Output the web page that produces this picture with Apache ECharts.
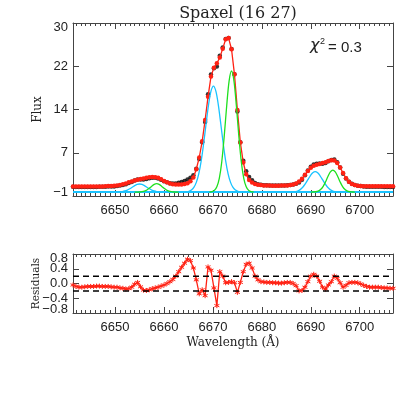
<!DOCTYPE html>
<html>
<head>
<meta charset="utf-8">
<title>Spaxel (16 27)</title>
<script src="https://cdn.jsdelivr.net/npm/echarts@6.0.0/dist/echarts.min.js"></script>
<style>
html, body { margin: 0; padding: 0; background: #fff; }
#main { width: 415px; height: 394px; }
</style>
</head>
<body>
<div id="main"></div>
<script>
// --- wavelength grid (A) ---
var wave = [6641.4, 6642.0, 6642.6, 6643.2, 6643.8, 6644.4, 6645.0, 6645.6, 6646.2, 6646.8,
  6647.4, 6648.0, 6648.6, 6649.2, 6649.8, 6650.4, 6651.0, 6651.6, 6652.2, 6652.8,
  6653.4, 6654.0, 6654.6, 6655.2, 6655.8, 6656.4, 6657.0, 6657.6, 6658.2, 6658.8,
  6659.4, 6660.0, 6660.6, 6661.2, 6661.8, 6662.4, 6663.0, 6663.6, 6664.2, 6664.8,
  6665.4, 6666.0, 6666.6, 6667.2, 6667.8, 6668.4, 6669.0, 6669.6, 6670.2, 6670.8,
  6671.4, 6672.0, 6672.6, 6673.2, 6673.8, 6674.4, 6675.0, 6675.6, 6676.2, 6676.8,
  6677.4, 6678.0, 6678.6, 6679.2, 6679.8, 6680.4, 6681.0, 6681.6, 6682.2, 6682.8,
  6683.4, 6684.0, 6684.6, 6685.2, 6685.8, 6686.4, 6687.0, 6687.6, 6688.2, 6688.8,
  6689.4, 6690.0, 6690.6, 6691.2, 6691.8, 6692.4, 6693.0, 6693.6, 6694.2, 6694.8,
  6695.4, 6696.0, 6696.6, 6697.2, 6697.8, 6698.4, 6699.0, 6699.6, 6700.2, 6700.8,
  6701.4, 6702.0, 6702.6, 6703.2, 6703.8, 6704.4, 6705.0, 6705.6, 6706.2, 6706.8];

// observed flux (black dots)
var flux = [0.46, 0.42, 0.40, 0.40, 0.41, 0.42, 0.42, 0.42, 0.43, 0.45,
  0.44, 0.47, 0.49, 0.51, 0.52, 0.58, 0.66, 0.77, 0.90, 1.11,
  1.32, 1.56, 1.75, 1.76, 1.77, 1.86, 1.98, 2.06, 2.06, 1.95,
  1.73, 1.46, 1.25, 1.10, 1.03, 1.06, 1.17, 1.32, 1.50, 1.76,
  2.07, 2.52, 3.70, 5.42, 8.43, 12.07, 17.05, 20.56, 21.68, 22.00,
  23.92, 25.40, 26.92, 27.13, 25.15, 20.62, 13.96, 8.43, 5.12, 3.22,
  2.20, 1.62, 1.15, 0.92, 0.80, 0.74, 0.71, 0.69, 0.67, 0.67,
  0.66, 0.67, 0.70, 0.73, 0.78, 0.85, 0.99, 1.20, 1.71, 2.50,
  3.35, 4.05, 4.45, 4.60, 4.61, 4.60, 4.70, 5.01, 5.25, 5.35,
  4.84, 3.92, 2.80, 1.95, 1.37, 0.98, 0.78, 0.64, 0.57, 0.51,
  0.47, 0.45, 0.45, 0.45, 0.45, 0.44, 0.43, 0.43, 0.42, 0.42];

// total fit (red)
var model = [0.50, 0.50, 0.50, 0.50, 0.50, 0.50, 0.50, 0.50, 0.50, 0.52,
  0.52, 0.55, 0.57, 0.60, 0.62, 0.68, 0.78, 0.90, 1.05, 1.25,
  1.42, 1.58, 1.72, 1.85, 1.95, 2.05, 2.15, 2.20, 2.18, 2.05,
  1.80, 1.50, 1.25, 1.05, 0.92, 0.86, 0.85, 0.88, 0.95, 1.10,
  1.45, 2.10, 3.60, 5.70, 8.60, 12.4, 16.6, 20.2, 21.8, 22.6,
  23.6, 25.2, 26.9, 27.1, 25.1, 20.6, 14.2, 8.4, 4.8, 2.7,
  1.65, 1.20, 0.95, 0.82, 0.75, 0.70, 0.68, 0.66, 0.65, 0.65,
  0.65, 0.66, 0.68, 0.70, 0.75, 0.85, 1.05, 1.40, 1.90, 2.60,
  3.30, 3.85, 4.20, 4.40, 4.55, 4.70, 4.85, 5.05, 5.20, 5.15,
  4.70, 3.90, 2.90, 2.00, 1.35, 0.95, 0.75, 0.62, 0.58, 0.56,
  0.55, 0.55, 0.55, 0.55, 0.55, 0.55, 0.55, 0.55, 0.55, 0.55];

// residuals
var resid = [-0.04, -0.08, -0.10, -0.10, -0.09, -0.08, -0.08, -0.08, -0.07, -0.07,
  -0.08, -0.08, -0.08, -0.09, -0.10, -0.10, -0.12, -0.13, -0.15, -0.14,
  -0.10, -0.02, 0.03, -0.09, -0.18, -0.19, -0.17, -0.14, -0.12, -0.10,
  -0.07, -0.04, 0.00, 0.05, 0.11, 0.20, 0.32, 0.44, 0.55, 0.66,
  0.62, 0.42, 0.10, -0.28, -0.17, -0.33, 0.45, 0.36, -0.12, -0.60,
  0.32, 0.20, 0.02, 0.03, 0.05, 0.02, -0.24, 0.03, 0.32, 0.52,
  0.55, 0.42, 0.20, 0.10, 0.05, 0.04, 0.03, 0.03, 0.02, 0.02,
  0.01, 0.01, 0.02, 0.03, 0.03, 0.00, -0.06, -0.20, -0.19, -0.10,
  0.05, 0.20, 0.25, 0.20, 0.06, -0.10, -0.15, -0.04, 0.05, 0.20,
  0.14, 0.02, -0.10, -0.05, 0.02, 0.03, 0.03, 0.02, -0.01, -0.05,
  -0.08, -0.10, -0.10, -0.10, -0.10, -0.11, -0.12, -0.12, -0.13, -0.13];

// gaussian components: cyan (broad) and green (narrow)
var cyanWaveA = [6649.5, 6650.0, 6650.5, 6651.0, 6651.5, 6652.0, 6652.5, 6653.0, 6653.5, 6654.0, 6654.5, 6655.0,
  6655.5, 6656.0, 6656.5, 6657.0, 6657.5, 6658.0, 6658.5, 6659.0, 6659.5, 6660.0, 6660.5];
var cyanFluxA = [-0.5, -0.49, -0.48, -0.46, -0.4, -0.3, -0.14, 0.1, 0.38, 0.66, 0.87, 0.95,
  0.87, 0.66, 0.38, 0.1, -0.14, -0.3, -0.4, -0.46, -0.48, -0.49, -0.5];
var cyanWaveB = [6664.1, 6664.6, 6665.1, 6665.6, 6666.1, 6666.6, 6667.1, 6667.6, 6668.1, 6668.6, 6669.1, 6669.6, 6670.1,
  6670.6, 6671.1, 6671.6, 6672.1, 6672.6, 6673.1, 6673.6, 6674.1, 6674.6, 6675.1, 6675.6, 6676.1];
var cyanFluxB = [-0.48, -0.45, -0.36, -0.14, 0.33, 1.24, 2.77, 5.11, 8.20, 11.74, 15.14, 17.59, 18.5,
  17.59, 15.14, 11.74, 8.20, 5.11, 2.77, 1.24, 0.33, -0.14, -0.36, -0.45, -0.48];
var cyanWaveC = [6685.4, 6685.9, 6686.4, 6686.9, 6687.4, 6687.9, 6688.4, 6688.9, 6689.4, 6689.9, 6690.4, 6690.9,
  6691.4, 6691.9, 6692.4, 6692.9, 6693.4, 6693.9, 6694.4, 6694.9, 6695.4, 6695.9, 6696.4];
var cyanFluxC = [-0.5, -0.49, -0.46, -0.4, -0.26, -0.01, 0.41, 1.0, 1.72, 2.42, 2.95, 3.15,
  2.95, 2.42, 1.72, 1.0, 0.41, -0.01, -0.26, -0.4, -0.46, -0.49, -0.5];

var greenWaveA = [6654.0, 6654.5, 6655.0, 6655.5, 6656.0, 6656.5, 6657.0, 6657.5, 6658.0, 6658.5,
  6659.0, 6659.5, 6660.0, 6660.5, 6661.0, 6661.5, 6662.0, 6662.5, 6663.0];
var greenFluxA = [-0.5, -0.49, -0.48, -0.43, -0.33, -0.13, 0.19, 0.56, 0.88, 1.0,
  0.88, 0.56, 0.19, -0.13, -0.33, -0.43, -0.48, -0.49, -0.5];
var greenWaveB = [6669.3, 6669.8, 6670.3, 6670.8, 6671.3, 6671.8, 6672.3, 6672.8, 6673.3, 6673.8,
  6674.3, 6674.8, 6675.3, 6675.8, 6676.3, 6676.8, 6677.3, 6677.8, 6678.3];
var greenFluxB = [-0.48, -0.42, -0.19, 0.45, 1.97, 4.9, 9.44, 14.84, 19.4, 21.2,
  19.4, 14.84, 9.44, 4.9, 1.97, 0.45, -0.19, -0.42, -0.48];
var greenWaveC = [6690.0, 6690.5, 6691.0, 6691.5, 6692.0, 6692.5, 6693.0, 6693.5, 6694.0, 6694.5,
  6695.0, 6695.5, 6696.0, 6696.5, 6697.0, 6697.5, 6698.0, 6698.5, 6699.0];
var greenFluxC = [-0.5, -0.48, -0.44, -0.33, -0.05, 0.48, 1.31, 2.29, 3.12, 3.45,
  3.12, 2.29, 1.31, 0.48, -0.05, -0.33, -0.44, -0.48, -0.5];

var baseWave = [6641.4, 6706.8];
var baseFlux = [-0.5, -0.5];
var residLimits = [0.2, -0.2];

// axis ranges: [min, max, step] and tick label texts (bottom to top)
var fluxTicks = [-1.2, 29.8, 7.75];
var fluxLabels = ['\u22121', '7', '14', '22', '30'];
var residTicks = [-0.8, 0.8, 0.4];
var residLabels = ['\u22120.8', '\u22120.4', '0.0', '0.4', '0.8'];

var chart = echarts.init(document.getElementById('main'));

var axisCol = '#444';
var txtCol = '#222';
var red = '#ff2214';
var cyan = '#19c3ff';
var green = '#1ee01e';
var xMin = wave[0], xMax = wave[wave.length - 1];
var topH = 173, botH = 59;

function pairs(xs, ys) {
  var out = [];
  for (var i = 0; i < xs.length; i++) out.push([xs[i], ys[i]]);
  return out;
}

function xAx(gi, pos, showLab, name) {
  return {
    type: 'value', gridIndex: gi, position: pos, min: xMin, max: xMax, splitNumber: 6,
    name: name || '', nameLocation: 'middle', nameGap: 24,
    nameTextStyle: { fontFamily: 'DejaVu Serif', fontSize: 12, color: txtCol },
    axisLine: { onZero: false, lineStyle: { color: axisCol, width: 1 } },
    axisTick: { inside: true, length: 6, lineStyle: { color: axisCol } },
    minorTick: { show: true, splitNumber: 10, length: 3, lineStyle: { color: axisCol } },
    splitLine: { show: false },
    axisLabel: {
      show: showLab, showMinLabel: false, showMaxLabel: false, margin: 8,
      color: txtCol, fontFamily: 'Liberation Sans', fontSize: 13,
      formatter: function (v) {
        return Math.abs(v - Math.round(v / 10) * 10) < 1e-6 ? String(Math.round(v)) : '';
      }
    }
  };
}

// label anchors: one per tick, the two end ones pulled ~4px inside the frame
function labelSpots(t, h) {
  var inset = 4 * (t[1] - t[0]) / h;
  var out = [];
  for (var v = t[0]; v <= t[1] + 1e-9; v += t[2]) out.push(v);
  out[0] += inset;
  out[out.length - 1] -= inset;
  return out;
}

// which: list of label indexes this axis prints (null = none)
function yAx(gi, pos, which, t, texts, h, name, gap, nsize, bare) {
  var spots = labelSpots(t, h);
  var mine = which ? which.map(function (i) { return spots[i]; }) : [];
  return {
    type: 'value', gridIndex: gi, position: pos, offset: 0, min: t[0], max: t[1], interval: t[2],
    name: name || '', nameLocation: 'middle', nameGap: gap || 0, nameRotate: 90, nameMoveOverlap: false,
    nameTextStyle: { fontFamily: 'DejaVu Serif', fontSize: nsize || 12, color: txtCol },
    axisLine: { show: !bare, onZero: false, lineStyle: { color: axisCol, width: 1 } },
    axisTick: { show: !bare, inside: true, length: 6, lineStyle: { color: axisCol } },
    splitLine: { show: false },
    axisLabel: {
      show: !!which, customValues: mine, showMinLabel: true, showMaxLabel: true, hideOverlap: false,
      margin: 5, color: txtCol, fontFamily: 'Liberation Sans', fontSize: 13,
      formatter: function (v) {
        var best = 0;
        for (var i = 1; i < spots.length; i++) {
          if (Math.abs(spots[i] - v) < Math.abs(spots[best] - v)) best = i;
        }
        return texts[best];
      }
    }
  };
}

function comp(xs, ys, col) {
  return {
    type: 'line', xAxisIndex: 0, yAxisIndex: 0, data: pairs(xs, ys), showSymbol: false,
    smooth: 0.3, lineStyle: { color: col, width: 1.3 }, z: 4, silent: true
  };
}

chart.setOption({
  animation: false,
  backgroundColor: '#fff',
  title: {
    text: 'Spaxel (16 27)', left: 233, top: 1, textAlign: 'center',
    textStyle: { fontFamily: 'DejaVu Serif', fontSize: 16, fontWeight: 'normal', color: txtCol }
  },
  grid: [
    { left: 73, top: 23, width: 320, height: topH },
    { left: 73, top: 254, width: 320, height: botH }
  ],
  xAxis: [
    xAx(0, 'bottom', true),
    xAx(0, 'top', false),
    xAx(1, 'bottom', true, 'Wavelength (\u00c5)'),
    xAx(1, 'top', false)
  ],
  yAxis: [
    yAx(0, 'left', [0, 1, 2, 3, 4], fluxTicks, fluxLabels, topH, 'Flux', 29, 12),
    yAx(0, 'right', null, fluxTicks, fluxLabels, topH),
    // residual labels are split over two left axes so none of them collide
    yAx(1, 'left', [1, 2, 3], residTicks, residLabels, botH, 'Residuals', 31, 10.5),
    yAx(1, 'right', null, residTicks, residLabels, botH),
    yAx(1, 'left', [0, 4], residTicks, residLabels, botH, '', 0, 12, true)
  ],
  graphic: [
    { type: 'text', left: 310, top: 38, style: { text: '\u03c7', font: 'italic 16px "DejaVu Sans"', fill: txtCol } },
    { type: 'text', left: 320, top: 37, style: { text: '2', font: '9px "Liberation Sans"', fill: txtCol } },
    { type: 'text', left: 328, top: 40, style: { text: '= 0.3', font: '15px "Liberation Sans"', fill: txtCol } }
  ],
  series: [
    {
      type: 'scatter', xAxisIndex: 0, yAxisIndex: 0, data: pairs(wave, flux),
      symbol: 'circle', symbolSize: 4.5, itemStyle: { color: '#000' }, z: 2
    },
    {
      type: 'line', xAxisIndex: 0, yAxisIndex: 0, data: pairs(wave, model),
      symbol: 'circle', symbolSize: 4.5, showAllSymbol: true,
      lineStyle: { color: red, width: 1.3 }, itemStyle: { color: red }, z: 3
    },
    {
      type: 'line', xAxisIndex: 0, yAxisIndex: 0, data: pairs(baseWave, baseFlux),
      showSymbol: false, lineStyle: { color: cyan, width: 2 }, z: 4
    },
    comp(cyanWaveA, cyanFluxA, cyan),
    comp(cyanWaveB, cyanFluxB, cyan),
    comp(cyanWaveC, cyanFluxC, cyan),
    comp(greenWaveA, greenFluxA, green),
    comp(greenWaveB, greenFluxB, green),
    comp(greenWaveC, greenFluxC, green),
    {
      type: 'line', xAxisIndex: 2, yAxisIndex: 2, data: pairs(wave, resid),
      symbol: 'path://M5,0L5,10M0,2.5L10,7.5M0,7.5L10,2.5', symbolSize: 5, showAllSymbol: true,
      lineStyle: { color: red, width: 1.3 },
      itemStyle: { color: 'rgba(0,0,0,0)', borderColor: red, borderWidth: 1 }, z: 3
    },
    {
      type: 'line', xAxisIndex: 2, yAxisIndex: 2, data: [[xMin, residLimits[0]], [xMax, residLimits[0]]],
      showSymbol: false, lineStyle: { color: '#000', width: 1.5, type: [6, 4] }, z: 4
    },
    {
      type: 'line', xAxisIndex: 2, yAxisIndex: 2, data: [[xMin, residLimits[1]], [xMax, residLimits[1]]],
      showSymbol: false, lineStyle: { color: '#000', width: 1.5, type: [6, 4] }, z: 4
    }
  ]
});
</script>
</body>
</html>
